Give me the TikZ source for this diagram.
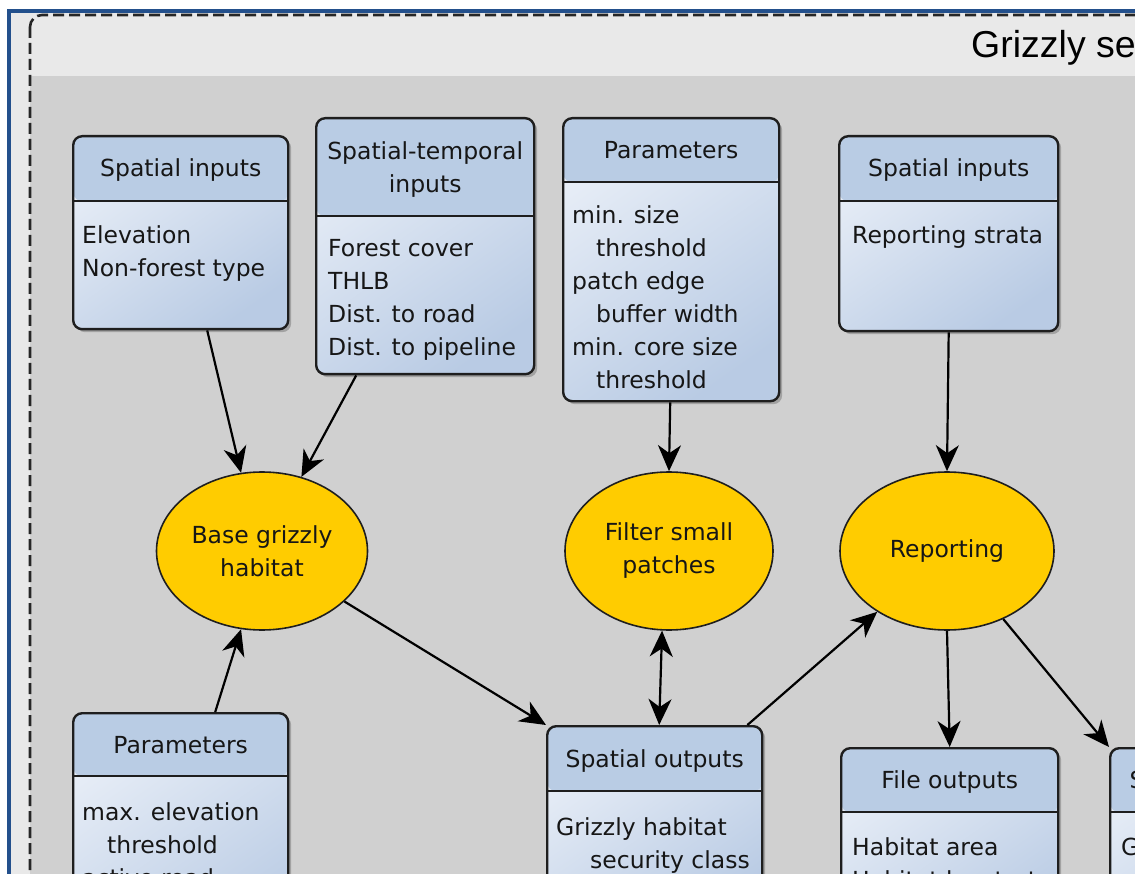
\documentclass[tikz,border=0pt]{standalone}
\usepackage{fontspec}
\setmainfont{DejaVu Sans}
\newfontfamily\titlefont{Liberation Sans}
\usetikzlibrary{arrows.meta,shapes.geometric,shadows}

\definecolor{framebl}{HTML}{23508C}
\definecolor{paneltop}{HTML}{E9E9E9}
\definecolor{panelbody}{HTML}{D0D0D0}
\definecolor{headblue}{HTML}{B9CCE4}
\definecolor{bodytl}{HTML}{E8EEF7}
\definecolor{bodybr}{HTML}{B9CBE4}
\definecolor{boxline}{HTML}{1E1E1E}
\definecolor{gold}{HTML}{FFCC00}
\definecolor{inktext}{HTML}{161616}

\newcommand\boxfont{\fontsize{23.5pt}{33pt}\selectfont}

\tikzset{
  umlbox/.style={draw=boxline, line width=2.4pt, rounded corners=9pt,
    anchor=north west, inner sep=0pt,
    top color=bodytl, bottom color=bodybr, shading angle=35,
    drop shadow={shadow xshift=3pt, shadow yshift=-3pt, opacity=.22, fill=black}},
  headband/.style={path picture={
      \fill[headblue] (path picture bounding box.north west) rectangle
        ([yshift=-#1]path picture bounding box.north east);
      \draw[boxline, line width=2.4pt] ([yshift=-#1]path picture bounding box.north west) --
        ([yshift=-#1]path picture bounding box.north east);}},
  headtext/.style={anchor=base, inner sep=0pt, font=\boxfont, text=inktext},
  bodytext/.style={anchor=base west, inner sep=0pt, font=\boxfont, text=inktext},
  process/.style={ellipse, draw=boxline, line width=1.6pt, fill=gold, inner sep=0pt,
    font=\boxfont, text=inktext, align=center},
  arr/.style={draw=black, line width=2.2pt, -{Stealth[length=26pt, width=23pt, inset=8pt]}},
  dblarr/.style={draw=black, line width=2.2pt,
    {Stealth[length=26pt, width=23pt, inset=8pt]}-{Stealth[length=26pt, width=23pt, inset=8pt]}},
}

\begin{document}
\begin{tikzpicture}[x=1pt, y=-1pt]
\useasboundingbox (0,0) rectangle (1135,874);
\clip (0,0) rectangle (1135,874);

% window background and panel
\fill[white] (0,0) rectangle (1135,874);
\fill[paneltop] (9,11) rectangle (1160,900);
\fill[panelbody] (30,76) rectangle (1160,900);
\draw[black!85, line width=2.6pt, dash pattern=on 11pt off 5pt, rounded corners=12pt]
  (30,15) rectangle (1160,900);
\draw[framebl, line width=4pt] (9,11) rectangle (1160,900);

\node[anchor=base west, inner sep=0pt, font=\titlefont\fontsize{37.5pt}{40pt}\selectfont] (title)
  at (971,58) {Grizzly security};

% input and parameter boxes
\node[umlbox, headband=65pt, minimum width=215pt, minimum height=193pt] (b1) at (72,135) {};
\node[headtext] (b1h) at ([yshift=-42pt]b1.north) {Spatial inputs};
\node[bodytext] (b1t) at ([xshift=10pt, yshift=-109pt]b1.north west)
  {\begin{tabular}[t]{@{}l@{}}Elevation\\Non-forest type\end{tabular}};

\node[umlbox, headband=98pt, minimum width=218pt, minimum height=256pt] (b2) at (315,117) {};
\node[headtext] (b2h) at ([yshift=-43pt]b2.north)
  {\begin{tabular}[t]{@{}c@{}}Spatial-temporal\\inputs\end{tabular}};
\node[bodytext] (b2t) at ([xshift=13pt, yshift=-140pt]b2.north west)
  {\begin{tabular}[t]{@{}l@{}}Forest cover\\THLB\\Dist. to road\\Dist. to pipeline\end{tabular}};

\node[umlbox, headband=64pt, minimum width=216pt, minimum height=283pt] (b3) at (562,117) {};
\node[headtext] (b3h) at ([yshift=-42pt]b3.north) {Parameters};
\node[bodytext] (b3t) at ([xshift=10pt, yshift=-107pt]b3.north west)
  {\begin{tabular}[t]{@{}l@{}}min. size\\\hspace*{24pt}threshold\\patch edge\\\hspace*{24pt}buffer width\\min. core size\\\hspace*{24pt}threshold\end{tabular}};

\node[umlbox, headband=65pt, minimum width=219pt, minimum height=195pt] (b4) at (838,135) {};
\node[headtext] (b4h) at ([yshift=-42pt]b4.north) {Spatial inputs};
\node[bodytext] (b4t) at ([xshift=14pt, yshift=-109pt]b4.north west) {Reporting strata};

\node[umlbox, headband=63pt, minimum width=215pt, minimum height=250pt] (b5) at (72,712) {};
\node[headtext] (b5h) at ([yshift=-41pt]b5.north) {Parameters};
\node[bodytext] (b5t) at ([xshift=10pt, yshift=-108pt]b5.north west)
  {\begin{tabular}[t]{@{}l@{}}max. elevation\\\hspace*{25pt}threshold\\active road\end{tabular}};

% output boxes
\node[umlbox, headband=65pt, minimum width=215pt, minimum height=200pt] (b6) at (546,725) {};
\node[headtext] (b6h) at ([yshift=-42pt]b6.north) {Spatial outputs};
\node[bodytext] (b6t) at ([xshift=10pt, yshift=-110pt]b6.north west)
  {\begin{tabular}[t]{@{}l@{}}Grizzly habitat\\\hspace*{34pt}security class\end{tabular}};

\node[umlbox, headband=64pt, minimum width=217pt, minimum height=200pt] (b7) at (840,747) {};
\node[headtext] (b7h) at ([yshift=-41pt]b7.north) {File outputs};
\node[bodytext] (b7t) at ([xshift=12pt, yshift=-108pt]b7.north west)
  {\begin{tabular}[t]{@{}l@{}}Habitat area\\Habitat by strata\end{tabular}};

\node[umlbox, headband=64pt, minimum width=217pt, minimum height=200pt] (b8) at (1109,747) {};
\node[headtext] (b8h) at ([yshift=-41pt]b8.north) {Spatial outputs};
\node[bodytext] (b8t) at ([xshift=12pt, yshift=-108pt]b8.north west) {Grizzly habitat};

% processes
\node[process, minimum width=211pt, minimum height=158pt] (e1) at (262,551) {Base grizzly\\habitat};
\node[process, minimum width=208pt, minimum height=158pt] (e2) at (669,551) {Filter small\\patches};
\node[process, minimum width=214pt, minimum height=158pt] (e3) at (947,551) {Reporting};

% data flow
\draw[arr] ([xshift=26.5pt]b1.south) -- (e1.105);
\draw[arr] ([xshift=-69pt]b2.south) -- (e1.62);
\draw[arr] ([xshift=34.5pt]b5.north) -- (e1.255);
\draw[arr] ([xshift=-1pt]b3.south) -- (e2.north);
\draw[arr] (b4.south) -- (e3.north);
\draw[arr] (e1) -- (b6.north west);
\draw[dblarr] ([xshift=4.5pt]b6.north) -- (e2.265);
\draw[arr] ([xshift=-16pt]b6.north east) -- (e3);
\draw[arr] (e3.south) -- (b7.north);
\draw[arr] (e3) -- (b8.north west);
\end{tikzpicture}
\end{document}
